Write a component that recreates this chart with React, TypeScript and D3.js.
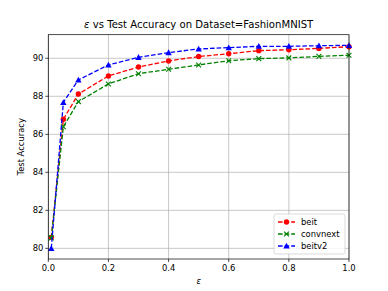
import React from 'react';
import * as d3 from 'd3';

const EPS = [0.01, 0.05, 0.1, 0.2, 0.3, 0.4, 0.5, 0.6, 0.7, 0.8, 0.9, 1.0];
const BEIT = [80.58, 86.79, 88.12, 89.07, 89.54, 89.86, 90.09, 90.24, 90.4, 90.45, 90.52, 90.61];
const CONVNEXT = [80.55, 86.4, 87.72, 88.65, 89.19, 89.42, 89.65, 89.87, 89.98, 90.02, 90.1, 90.16];
const BEITV2 = [80.0, 87.68, 88.86, 89.65, 90.05, 90.3, 90.49, 90.56, 90.63, 90.63, 90.66, 90.68];
const X_TICKS = [0, 0.2, 0.4, 0.6, 0.8, 1.0];
const Y_TICKS = [80, 82, 84, 86, 88, 90];

const SERIES = [
  { name: 'beit', values: BEIT, color: '#ff0000', marker: 'circle' },
  { name: 'convnext', values: CONVNEXT, color: '#008000', marker: 'x' },
  { name: 'beitv2', values: BEITV2, color: '#0000ff', marker: 'triangle' },
];

const W = 388;
const H = 291;
const M = { top: 34.7, right: 39, bottom: 32, left: 48.3 };
const FONT = 'DejaVu Sans, sans-serif';

function Marker({ kind, x, y, color }: { kind: string; x: number; y: number; color: string }) {
  if (kind === 'circle') return <circle cx={x} cy={y} r={2.7} fill={color} />;
  if (kind === 'triangle') {
    const s = 3.2;
    return <path d={`M${x},${y - s}L${x + s},${y + s * 0.8}L${x - s},${y + s * 0.8}Z`} fill={color} />;
  }
  const s = 2.4;
  return (
    <path d={`M${x - s},${y - s}L${x + s},${y + s}M${x - s},${y + s}L${x + s},${y - s}`}
      stroke={color} strokeWidth={1.1} fill="none" />
  );
}

export default function App() {
  const innerW = W - M.left - M.right;
  const innerH = H - M.top - M.bottom;
  const x = d3.scaleLinear().domain([0, 1]).range([0, innerW]);
  const y = d3.scaleLinear().domain([79.44, 91.24]).range([innerH, 0]);
  const line = d3.line<number>().x((_, i) => x(EPS[i])).y(d => y(d));

  const legX = innerW - 75;
  const legY = innerH - 45;

  return (
    <svg width={W} height={H} style={{ position: 'absolute', left: 0, top: 0, background: '#fff' }}
      fontFamily={FONT}>
      <text x={M.left + innerW / 2} y={28} textAnchor="middle" fontSize={10.1} fill="#000">
        <tspan fontStyle="italic">ε</tspan> vs Test Accuracy on Dataset=FashionMNIST
      </text>
      <g transform={`translate(${M.left},${M.top})`}>
        {/* grid */}
        {X_TICKS.map(t => (
          <line key={'gx' + t} x1={x(t)} x2={x(t)} y1={0} y2={innerH} stroke="#b0b0b0" strokeWidth={0.7} />
        ))}
        {Y_TICKS.map(t => (
          <line key={'gy' + t} x1={0} x2={innerW} y1={y(t)} y2={y(t)} stroke="#b0b0b0" strokeWidth={0.7} />
        ))}
        {/* series */}
        {SERIES.map(s => (
          <g key={s.name}>
            <path d={line(s.values) || ''} fill="none" stroke={s.color} strokeWidth={1.3} strokeDasharray="4.6,2" />
            {s.values.map((v, i) => (
              <Marker key={i} kind={s.marker} x={x(EPS[i])} y={y(v)} color={s.color} />
            ))}
          </g>
        ))}
        {/* frame */}
        <rect x={0} y={0} width={innerW} height={innerH} fill="none" stroke="#000" strokeWidth={0.7} />
        {/* x ticks */}
        {X_TICKS.map(t => (
          <g key={'xt' + t} transform={`translate(${x(t)},${innerH})`}>
            <line y2={3} stroke="#000" strokeWidth={0.7} />
            <text y={12} textAnchor="middle" fontSize={8.4} fill="#000">{t.toFixed(1)}</text>
          </g>
        ))}
        {/* y ticks */}
        {Y_TICKS.map(t => (
          <g key={'yt' + t} transform={`translate(0,${y(t)})`}>
            <line x2={-3} stroke="#000" strokeWidth={0.7} />
            <text x={-5} dy="0.33em" textAnchor="end" fontSize={8.4} fill="#000">{t}</text>
          </g>
        ))}
        <text x={innerW / 2} y={innerH + 25} textAnchor="middle" fontSize={8.4} fontStyle="italic" fill="#000">ε</text>
        <text transform={`translate(${-24},${innerH / 2}) rotate(-90)`} textAnchor="middle" fontSize={8.4} fill="#000">
          Test Accuracy
        </text>
        {/* legend */}
        <g transform={`translate(${legX},${legY})`}>
          <rect x={0} y={0} width={71} height={40} rx={2} fill="#fff" fillOpacity={0.8} stroke="#cccccc" strokeWidth={0.7} />
          {SERIES.map((s, i) => {
            const cy = 8 + i * 12;
            return (
              <g key={s.name}>
                <line x1={4} x2={21} y1={cy} y2={cy} stroke={s.color} strokeWidth={1.3} strokeDasharray="4.6,2" />
                <Marker kind={s.marker} x={12.5} y={cy} color={s.color} />
                <text x={27} y={cy} dy="0.33em" fontSize={8.4} fill="#000">{s.name}</text>
              </g>
            );
          })}
        </g>
      </g>
    </svg>
  );
}
